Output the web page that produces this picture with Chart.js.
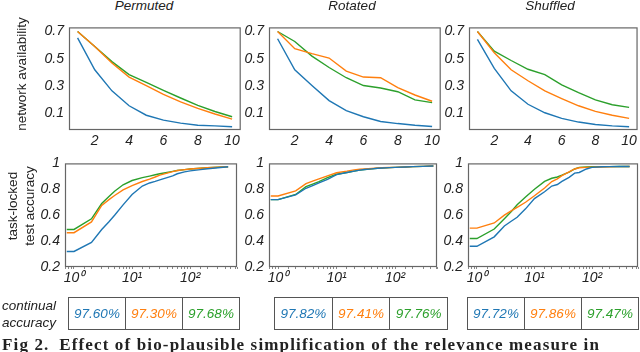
<!DOCTYPE html>
<html>
<head>
<meta charset="utf-8">
<script src="https://cdn.jsdelivr.net/npm/chart.js@4.4.1/dist/chart.umd.min.js"></script>
<style>
  body { margin: 0; width: 640px; height: 352px; position: relative; overflow: hidden; background: #fff;
         font-family: "Liberation Sans", Arial, sans-serif; color: #222; }
  canvas { position: absolute; }
  .ttl { position: absolute; top: -1px; font-style: italic; font-size: 13.5px; line-height: 14px;
         white-space: nowrap; transform: translateX(-50%); }
  .ylab { position: absolute; font-size: 13.5px; line-height: 17px; text-align: center; white-space: nowrap;
          transform: translate(-50%, -50%) rotate(-90deg); }
  .tbl { position: absolute; top: 297px; height: 33px; display: flex; border: 1.5px solid #555; box-sizing: border-box; }
  .tbl div { flex: 1; display: flex; align-items: center; justify-content: center; font-style: italic; font-size: 13.5px; }
  .tbl div + div { border-left: 1.5px solid #555; }
  .side { position: absolute; left: 2px; top: 298px; font-style: italic; font-size: 13.5px; line-height: 16.5px; }
  .cap { position: absolute; left: 2px; top: 335px; font-family: "Liberation Serif", serif; font-weight: bold;
         font-size: 17px; white-space: nowrap; }
</style>
</head>
<body>
<script>
// ---- data ----
const tasks = ['Permuted', 'Rotated', 'Shuffled'];
const colors = ['#1f77b4', '#ff7f0e', '#2ca02c'];

// network availability vs task
const availX = [1, 2, 3, 4, 5, 6, 7, 8, 9, 10];
const permAvailBlue   = [0.654, 0.42, 0.266, 0.157, 0.088, 0.052, 0.03, 0.015, 0.01, 0.004];
const permAvailOrange = [0.70, 0.59, 0.47, 0.367, 0.305, 0.24, 0.186, 0.138, 0.097, 0.06];
const permAvailGreen  = [0.70, 0.59, 0.48, 0.385, 0.328, 0.27, 0.214, 0.16, 0.115, 0.077];
const rotAvailBlue    = [0.647, 0.42, 0.305, 0.195, 0.122, 0.077, 0.042, 0.027, 0.015, 0.006];
const rotAvailOrange  = [0.70, 0.574, 0.538, 0.506, 0.41, 0.367, 0.362, 0.29, 0.236, 0.19];
const rotAvailGreen   = [0.70, 0.627, 0.52, 0.437, 0.362, 0.305, 0.287, 0.26, 0.2, 0.18];
const shufAvailBlue   = [0.643, 0.43, 0.266, 0.168, 0.106, 0.065, 0.038, 0.02, 0.01, 0.004];
const shufAvailOrange = [0.70, 0.545, 0.42, 0.34, 0.266, 0.21, 0.157, 0.116, 0.088, 0.065];
const shufAvailGreen  = [0.70, 0.556, 0.488, 0.424, 0.385, 0.31, 0.253, 0.2, 0.165, 0.145];

// task-locked test accuracy (log x)
const accX = [0.75, 1, 2, 3, 4, 5, 7, 10, 15, 20, 25, 30, 40, 50, 60, 80, 100, 150, 200, 300, 450];
const permAccBlue   = [0.32, 0.32, 0.39, 0.49, 0.55, 0.60, 0.68, 0.76, 0.825, 0.849, 0.861, 0.873, 0.89, 0.904, 0.92, 0.935, 0.942, 0.952, 0.959, 0.966, 0.974];
const permAccOrange = [0.465, 0.465, 0.548, 0.675, 0.72, 0.752, 0.795, 0.828, 0.86, 0.878, 0.895, 0.91, 0.925, 0.937, 0.945, 0.952, 0.957, 0.962, 0.966, 0.97, 0.974];
const permAccGreen  = [0.49, 0.49, 0.572, 0.69, 0.745, 0.785, 0.835, 0.868, 0.89, 0.902, 0.912, 0.92, 0.93, 0.938, 0.945, 0.952, 0.957, 0.962, 0.966, 0.97, 0.974];
const rotAccBlue    = [0.72, 0.72, 0.757, 0.808, 0.83, 0.849, 0.877, 0.913, 0.93, 0.94, 0.948, 0.953, 0.958, 0.962, 0.964, 0.967, 0.969, 0.972, 0.975, 0.977, 0.98];
const rotAccOrange  = [0.748, 0.748, 0.788, 0.844, 0.865, 0.88, 0.904, 0.928, 0.94, 0.95, 0.955, 0.958, 0.961, 0.964, 0.966, 0.968, 0.969, 0.972, 0.975, 0.977, 0.98];
const rotAccGreen   = [0.72, 0.72, 0.76, 0.82, 0.842, 0.86, 0.89, 0.916, 0.93, 0.94, 0.948, 0.953, 0.958, 0.962, 0.964, 0.967, 0.969, 0.972, 0.975, 0.977, 0.98];
const shufAccBlue   = [0.36, 0.36, 0.433, 0.517, 0.555, 0.584, 0.649, 0.728, 0.781, 0.825, 0.837, 0.861, 0.892, 0.925, 0.93, 0.957, 0.969, 0.974, 0.975, 0.976, 0.976];
const shufAccOrange = [0.5, 0.5, 0.54, 0.6, 0.635, 0.66, 0.70, 0.75, 0.81, 0.86, 0.88, 0.905, 0.935, 0.957, 0.966, 0.969, 0.97, 0.972, 0.974, 0.975, 0.976];
const shufAccGreen  = [0.42, 0.42, 0.493, 0.572, 0.63, 0.68, 0.74, 0.80, 0.861, 0.885, 0.895, 0.909, 0.933, 0.957, 0.969, 0.972, 0.974, 0.975, 0.975, 0.976, 0.976];

// continual accuracy
const permCont = [97.60, 97.30, 97.68];
const rotCont  = [97.82, 97.41, 97.76];
const shufCont = [97.72, 97.86, 97.47];

// ticks
const availXTicks = [2, 4, 6, 8, 10];
const availYTicks = [0.1, 0.3, 0.5, 0.7];
const accYTicks = [0.2, 0.4, 0.6, 0.8, 1];
const sup = ['\u2070', '\u00b9', '\u00b2', '\u00b3'];

// ---- drawing ----
const tickFont = { family: '"Liberation Sans", Arial, sans-serif', size: 14, style: 'italic' };

const boxPlugin = {
  id: 'box',
  afterDraw(chart) {
    const a = chart.chartArea, ctx = chart.ctx;
    ctx.save();
    ctx.strokeStyle = '#666';
    ctx.lineWidth = 1.2;
    ctx.strokeRect(a.left + 0.5, a.top + 0.5, a.right - a.left - 1, a.bottom - a.top - 1);
    ctx.restore();
  }
};

function makeChart(box, xs, series, xScale, yScale) {
  const [l, t, r, b] = box;
  const c = document.createElement('canvas');
  c.width = r - l + 42;
  c.height = b - t + 30;
  c.style.left = (l - 40) + 'px';
  c.style.top = (t - 6) + 'px';
  document.body.appendChild(c);
  new Chart(c.getContext('2d'), {
    type: 'line',
    data: {
      datasets: series.map((s, i) => ({
        data: xs.map((x, j) => ({ x: x, y: s[j] })),
        borderColor: colors[i],
        borderWidth: 1.4,
        pointRadius: 0,
        tension: 0
      }))
    },
    options: {
      responsive: false,
      animation: false,
      events: [],
      layout: { padding: { top: 6, right: 2, left: 0, bottom: 0 } },
      plugins: { legend: { display: false }, tooltip: { enabled: false } },
      scales: {
        x: Object.assign({ afterFit: s => { s.height = 24; } }, xScale),
        y: Object.assign({ afterFit: s => { s.width = 40; } }, yScale)
      }
    },
    plugins: [boxPlugin]
  });
}

function availScales() {
  return [
    {
      type: 'linear', min: 0.5, max: 10.5,
      grid: { display: false, drawTicks: false }, border: { display: false },
      afterBuildTicks: s => { s.ticks = availXTicks.map(v => ({ value: v })); },
      ticks: { font: tickFont, color: '#222', padding: 3, maxRotation: 0, callback: v => String(v) }
    },
    {
      type: 'linear', min: -0.02, max: 0.73,
      grid: { display: false, drawTicks: false }, border: { display: false },
      afterBuildTicks: s => { s.ticks = availYTicks.map(v => ({ value: v })); },
      ticks: { font: tickFont, color: '#222', padding: 5, callback: v => String(v) }
    }
  ];
}

function accScales(xmax) {
  return [
    {
      type: 'logarithmic', min: 0.72, max: xmax,
      grid: { display: true, drawOnChartArea: false, drawTicks: true, tickLength: 2, color: '#888' },
      border: { display: false },
      ticks: {
        font: tickFont, color: '#222', padding: 1, autoSkip: false, maxRotation: 0,
        callback: v => {
          const e = Math.log10(v);
          return Math.abs(e - Math.round(e)) < 1e-6 ? '10' + sup[Math.round(e)] : '';
        }
      }
    },
    {
      type: 'linear', min: 0.2, max: 1,
      grid: { display: false, drawTicks: false }, border: { display: false },
      afterBuildTicks: s => { s.ticks = accYTicks.map(v => ({ value: v })); },
      ticks: { font: tickFont, color: '#222', padding: 5, callback: v => String(v) }
    }
  ];
}

const topBoxes = [[69, 20, 241, 130], [269, 20, 441, 130], [469, 20, 638, 130]];
const botBoxes = [[65, 156, 237, 267], [269, 156, 437, 267], [468, 156, 638, 267]];
const accMax = [640, 520, 630];

const availSets = [
  [permAvailBlue, permAvailOrange, permAvailGreen],
  [rotAvailBlue, rotAvailOrange, rotAvailGreen],
  [shufAvailBlue, shufAvailOrange, shufAvailGreen]
];
const accSets = [
  [permAccBlue, permAccOrange, permAccGreen],
  [rotAccBlue, rotAccOrange, rotAccGreen],
  [shufAccBlue, shufAccOrange, shufAccGreen]
];
const contSets = [permCont, rotCont, shufCont];

availSets.forEach((s, i) => {
  const [xs, ys] = availScales();
  makeChart(topBoxes[i], availX, s, xs, ys);
});
accSets.forEach((s, i) => {
  const [xs, ys] = accScales(accMax[i]);
  makeChart(botBoxes[i], accX, s, xs, ys);
});

// titles, axis labels, tables, caption
const titleX = [144, 352, 550];
tasks.forEach((t, i) => {
  const d = document.createElement('div');
  d.className = 'ttl';
  d.style.left = titleX[i] + 'px';
  d.textContent = t;
  document.body.appendChild(d);
});

function ylab(html, x, y) {
  const d = document.createElement('div');
  d.className = 'ylab';
  d.style.left = x + 'px';
  d.style.top = y + 'px';
  d.innerHTML = html;
  document.body.appendChild(d);
}
ylab('network availability', 21, 74);
ylab('task-locked<br>test accuracy', 21, 206);

const side = document.createElement('div');
side.className = 'side';
side.innerHTML = 'continual<br>accuracy';
document.body.appendChild(side);

const tblBoxes = [[68, 240], [274, 448], [467, 639]];
contSets.forEach((vals, i) => {
  const t = document.createElement('div');
  t.className = 'tbl';
  t.style.left = tblBoxes[i][0] + 'px';
  t.style.width = (tblBoxes[i][1] - tblBoxes[i][0]) + 'px';
  vals.forEach((v, j) => {
    const c = document.createElement('div');
    c.style.color = colors[j];
    c.textContent = v.toFixed(2) + '%';
    t.appendChild(c);
  });
  document.body.appendChild(t);
});

const cap = document.createElement('div');
cap.className = 'cap';
cap.textContent = 'Fig 2.\u2002Effect of bio-plausible simplification of the relevance measure in';
document.body.appendChild(cap);
const w = cap.getBoundingClientRect().width;
cap.style.letterSpacing = ((598 - w) / cap.textContent.length) + 'px';
</script>
</body>
</html>
